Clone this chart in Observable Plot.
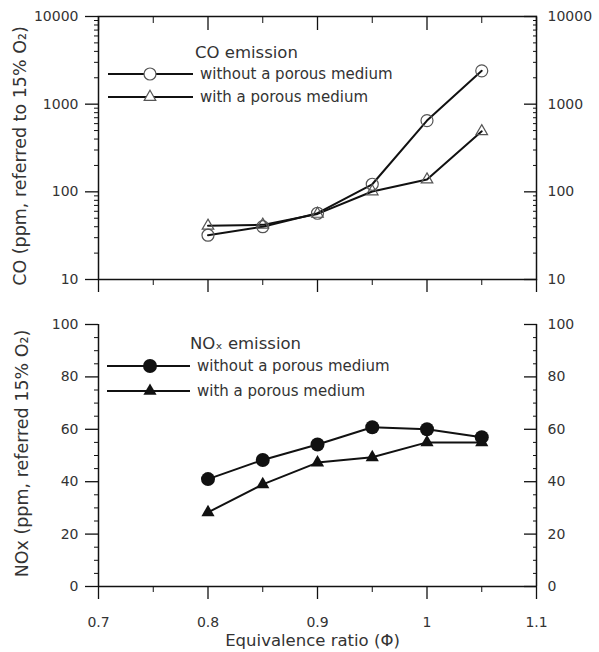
<!DOCTYPE html>
<html><head><meta charset="utf-8">
<script src="https://cdn.jsdelivr.net/npm/d3@7"></script>
<script src="https://cdn.jsdelivr.net/npm/@observablehq/plot@0.6"></script>
<style>
html,body{margin:0;padding:0;background:#fff;}
#chart{width:599px;}
#chart svg{display:block;}
</style></head><body><div id="chart"></div>
<script>
// ---- data ----
const phi = [0.8, 0.85, 0.9, 0.95, 1.0, 1.05];
const coWithout = [32, 40, 57, 122, 650, 2400];
const coWith = [41, 42, 56, 101, 138, 490];
const noxWithout = [41, 48.3, 54.2, 60.8, 60, 57];
const noxWith = [28.3, 39, 47.3, 49.3, 55, 55];

const xMajor = [0.7, 0.8, 0.9, 1.0, 1.1];
const xMinor = [0.75, 0.85, 0.95, 1.05];
const xTickLabels = ["0.7", "0.8", "0.9", "1", "1.1"];
const coMajor = [10, 100, 1000, 10000];
const coMinor = [20,30,40,50,60,70,80,90,200,300,400,500,600,700,800,900,2000,3000,4000,5000,6000,7000,8000,9000];
const noxMajor = [0, 20, 40, 60, 80, 100];
const noxMinor = [5,10,15,25,30,35,45,50,55,65,70,75,85,90,95];

const seriesNames = ["without a porous medium", "with a porous medium"];
const coLegendTitle = "CO emission";
const noxLegendTitle = "NOₓ emission";
const coYLabel = "CO (ppm, referred to 15% O₂)";
const noxYLabel = "NOx (ppm, referred 15% O₂)";
const xLabel = "Equivalence ratio (Φ)";

// ---- style ----
const FONT = "DejaVu Sans";
const INK = "#111";
const TEXT = "#333";
const W = 599;

const coRows = phi.map((p, i) => ({phi: p, without: coWithout[i], with: coWith[i]}));
const noxRows = phi.map((p, i) => ({phi: p, without: noxWithout[i], with: noxWith[i]}));

function legendMark(title, markers, L) {
  return () => {
    const g = d3.create("svg:g").attr("font-family", FONT).attr("text-anchor", "start");
    g.append("text").attr("x", L.tx).attr("y", L.ty).attr("dy", "0.35em")
      .attr("font-size", 16.5).attr("fill", TEXT).text(title);
    seriesNames.forEach((name, i) => {
      const y = L.ys[i], m = markers[i];
      g.append("line").attr("x1", L.x1).attr("x2", L.x2).attr("y1", y).attr("y2", y)
        .attr("stroke", INK).attr("stroke-width", 2);
      g.append("path").attr("transform", `translate(${L.mx},${y})`)
        .attr("d", d3.symbol(m.symbol, m.r * m.r * Math.PI)())
        .attr("fill", m.fill).attr("stroke", m.stroke).attr("stroke-width", m.sw);
      g.append("text").attr("x", L.lx).attr("y", y).attr("dy", "0.35em")
        .attr("font-size", 15).attr("fill", TEXT).text(name);
    });
    return g.node();
  };
}

const openMarkers = [
  {symbol: d3.symbolCircle, r: 6, fill: "white", stroke: "#555", sw: 1.2},
  {symbol: d3.symbolTriangle, r: 4.3, fill: "white", stroke: "#555", sw: 1.2}
];
const filledMarkers = [
  {symbol: d3.symbolCircle, r: 7, fill: INK, stroke: "none", sw: 0},
  {symbol: d3.symbolTriangle, r: 4.9, fill: INK, stroke: "none", sw: 0}
];

const axisText = {fontSize: 14, color: TEXT, label: null};
const blank = () => "";
const tickOpts = (size, w) => ({tickSize: size, tickFormat: blank, stroke: INK, strokeWidth: w, label: null});

// ---- top panel (CO, log) ----
const coPanel = Plot.plot({
  width: W, height: 300,
  marginLeft: 98, marginRight: 63, marginTop: 16, marginBottom: 21,
  style: {fontFamily: FONT, fontSize: "14px", background: "white", overflow: "visible"},
  x: {domain: [0.7, 1.1]},
  y: {type: "log", domain: [10, 10000]},
  marks: [
    Plot.frame({stroke: INK, strokeWidth: 1.5}),
    Plot.axisY({anchor: "left", ticks: coMajor, ...tickOpts(13, 1.3)}),
    Plot.axisY({anchor: "left", ticks: coMinor, ...tickOpts(4, 1)}),
    Plot.axisY({anchor: "left", ticks: coMajor, tickSize: 0, tickPadding: 20, tickFormat: d => String(d), ...axisText}),
    Plot.axisY({anchor: "right", ticks: coMajor, dx: -13, ...tickOpts(13, 1.3)}),
    Plot.axisY({anchor: "right", ticks: coMinor, dx: -4, ...tickOpts(4, 1)}),
    Plot.axisY({anchor: "right", ticks: coMajor, tickSize: 0, tickPadding: 11, tickFormat: d => String(d), ...axisText}),
    Plot.axisX({anchor: "bottom", ticks: xMajor, ...tickOpts(13, 1.3)}),
    Plot.axisX({anchor: "bottom", ticks: xMinor, ...tickOpts(6, 1)}),
    Plot.axisX({anchor: "top", ticks: xMajor, dy: 13, ...tickOpts(13, 1.3)}),
    Plot.axisX({anchor: "top", ticks: xMinor, dy: 6, ...tickOpts(6, 1)}),
    Plot.line(coRows, {x: "phi", y: "without", stroke: INK, strokeWidth: 2}),
    Plot.line(coRows, {x: "phi", y: "with", stroke: INK, strokeWidth: 2}),
    Plot.dot(coRows, {x: "phi", y: "without", symbol: "circle", r: 6, fill: "none", stroke: "#555", strokeWidth: 1.2}),
    Plot.dot(coRows, {x: "phi", y: "with", symbol: "triangle", r: 4.3, fill: "none", stroke: "#555", strokeWidth: 1.2}),
    Plot.text([coYLabel], {frameAnchor: "left", textAnchor: "middle", lineAnchor: "middle", dx: -78, dy: 8, rotate: -90, fontSize: 17.5, fill: TEXT}),
    legendMark(coLegendTitle, openMarkers, {tx: 195, ty: 52, ys: [74, 97], x1: 108, x2: 193, mx: 150, lx: 200})
  ]
});

// ---- bottom panel (NOx, linear) ----
const noxPanel = Plot.plot({
  width: W, height: 352,
  marginLeft: 98, marginRight: 63, marginTop: 24, marginBottom: 66,
  style: {fontFamily: FONT, fontSize: "14px", background: "white", overflow: "visible"},
  x: {domain: [0.7, 1.1]},
  y: {domain: [0, 100]},
  marks: [
    Plot.ruleX([0.7, 1.1], {stroke: INK, strokeWidth: 1.5}),
    Plot.ruleY([0], {stroke: INK, strokeWidth: 1.5}),
    Plot.axisY({anchor: "left", ticks: noxMajor, ...tickOpts(13, 1.3)}),
    Plot.axisY({anchor: "left", ticks: noxMinor, ...tickOpts(4, 1)}),
    Plot.axisY({anchor: "left", ticks: noxMajor, tickSize: 0, tickPadding: 20, tickFormat: d => String(d), ...axisText}),
    Plot.axisY({anchor: "right", ticks: noxMajor, dx: -13, ...tickOpts(13, 1.3)}),
    Plot.axisY({anchor: "right", ticks: noxMinor, dx: -4, ...tickOpts(4, 1)}),
    Plot.axisY({anchor: "right", ticks: noxMajor, tickSize: 0, tickPadding: 11, tickFormat: d => String(d), ...axisText}),
    Plot.axisX({anchor: "bottom", ticks: xMajor, ...tickOpts(13, 1.3)}),
    Plot.axisX({anchor: "bottom", ticks: xMinor, ...tickOpts(6, 1)}),
    Plot.axisX({anchor: "bottom", ticks: xMajor, tickSize: 0, tickPadding: 31, tickFormat: (d, i) => xTickLabels[i], ...axisText}),
    Plot.line(noxRows, {x: "phi", y: "without", stroke: INK, strokeWidth: 2}),
    Plot.line(noxRows, {x: "phi", y: "with", stroke: INK, strokeWidth: 2}),
    Plot.dot(noxRows, {x: "phi", y: "without", symbol: "circle", r: 7, fill: INK}),
    Plot.dot(noxRows, {x: "phi", y: "with", symbol: "triangle", r: 4.9, fill: INK}),
    Plot.text([noxYLabel], {frameAnchor: "left", textAnchor: "middle", lineAnchor: "middle", dx: -76, dy: -2, rotate: -90, fontSize: 17.5, fill: TEXT}),
    Plot.text([xLabel], {frameAnchor: "bottom", textAnchor: "middle", lineAnchor: "middle", dx: -5, dy: 54, fontSize: 16.5, fill: TEXT}),
    legendMark(noxLegendTitle, filledMarkers, {tx: 190, ty: 43, ys: [66, 91], x1: 107, x2: 190, mx: 150, lx: 197})
  ]
});

document.getElementById("chart").append(coPanel, noxPanel);
</script>
</body></html>
